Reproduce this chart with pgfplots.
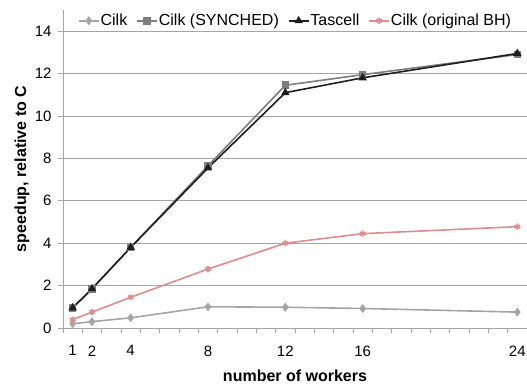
\documentclass[border=0pt]{standalone}
\usepackage{pgfplots}
\pgfplotsset{compat=1.18}
\usepackage{fontspec}
\setmainfont{Liberation Sans}
\definecolor{cilk}{RGB}{165,165,165}
\definecolor{synched}{RGB}{125,125,125}
\definecolor{tascell}{RGB}{30,30,30}
\definecolor{bh}{RGB}{222,140,140}
\definecolor{gridc}{RGB}{165,165,165}
\begin{document}
\begin{tikzpicture}
\begin{axis}[
  scale only axis,
  width=464pt, height=318pt,
  xmin=0.5, xmax=24.5, ymin=0, ymax=15,
  axis lines*=left,
  axis line style={gridc, line width=0.8pt},
  ytick={0,2,...,14},
  xtick={1,2,4,8,12,16,24},
  minor xtick={0.5,1.5,...,24.5},
  major x tick style={draw=none},
  minor x tick style={gridc, line width=0.8pt},
  y tick style={gridc, line width=0.8pt},
  tick align=outside,
  major tick length=5pt, minor tick length=5pt,
  ymajorgrids,
  grid style={gridc, line width=0.8pt},
  tick label style={font=\fontsize{15}{17}\selectfont},
  /pgf/number format/assume math mode=true,
  xticklabel style={yshift=-9pt},
  yticklabel style={xshift=-3pt},
  xlabel={\bfseries number of workers},
  ylabel={\bfseries speedup, relative to C},
  label style={font=\fontsize{16}{18}\selectfont},
  xlabel style={at={(axis description cs:0.5,-0.151)}, anchor=center},
  ylabel style={at={(axis description cs:-0.0884,0.5)}, anchor=center},
  clip=false,
  legend columns=4,
  legend style={at={(0.5,1)}, anchor=north, draw=none, fill=none,
    font=\fontsize{16}{18}\selectfont, yshift=-2pt, inner sep=0pt,
    nodes={inner xsep=1pt},
    /tikz/every even column/.append style={column sep=8pt}},
  legend image code/.code={
    \draw[#1, mark repeat=2, mark phase=2] plot coordinates {(0pt,0pt) (10pt,0pt) (20pt,0pt)};
  },
]
\addplot[cilk, line width=1.6pt, mark=diamond*, mark size=3.2pt, mark options={solid, fill=cilk}] coordinates {
  (1,0.2) (2,0.3) (4,0.48) (8,1.0) (12,0.98) (16,0.92) (24,0.75)};
\addlegendentry{Cilk}
\addplot[synched, line width=1.6pt, mark=square*, mark size=3pt, mark options={solid, fill=synched}] coordinates {
  (1,0.95) (2,1.85) (4,3.8) (8,7.65) (12,11.45) (16,11.95) (24,12.9)};
\addlegendentry{Cilk (SYNCHED)}
\addplot[tascell, line width=1.6pt, mark=triangle*, mark size=3.3pt, mark options={solid, fill=tascell}] coordinates {
  (1,0.95) (2,1.85) (4,3.8) (8,7.55) (12,11.1) (16,11.8) (24,12.95)};
\addlegendentry{Tascell}
\addplot[bh, line width=1.6pt, mark=asterisk, mark size=3.2pt, mark options={solid, line width=1.6pt}] coordinates {
  (1,0.4) (2,0.75) (4,1.45) (8,2.78) (12,4.0) (16,4.45) (24,4.78)};
\addlegendentry{Cilk (original BH)}
\end{axis}
\pgfresetboundingbox
\path (current axis.south west) ++(-63pt,-57pt) coordinate (bl);
\path (current axis.north east) ++(0pt,10pt) coordinate (tr);
\useasboundingbox (bl) rectangle (tr);
\end{tikzpicture}
\end{document}
